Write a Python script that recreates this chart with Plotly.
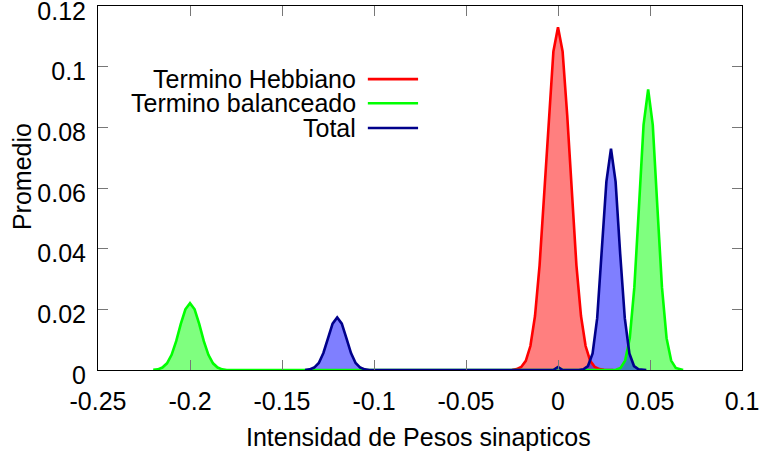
import plotly.graph_objects as go

# ---- data ----
red_x = [-0.025, -0.0225, -0.02, -0.0175, -0.015, -0.0125, -0.01, -0.0075, -0.005, -0.0025, 0,
         0.0025, 0.005, 0.0075, 0.01, 0.0125, 0.015, 0.0175, 0.02, 0.0225, 0.025, 0.03]
red_y = [0, 0.0003, 0.0010, 0.0030, 0.0079, 0.0178, 0.0346, 0.0580, 0.0840, 0.1050, 0.1130,
         0.1050, 0.0840, 0.0580, 0.0346, 0.0178, 0.0079, 0.0030, 0.0010, 0.0003, 0.0001, 0]

green_x = [-0.22, -0.2175, -0.215, -0.2125, -0.21, -0.2075, -0.205, -0.2025, -0.2, -0.1975,
           -0.195, -0.1925, -0.19, -0.1875, -0.185, -0.1825, -0.18,
           -0.15, -0.1, -0.05, -0.0025, 0, 0.0025, 0.02,
           0.0315, 0.034, 0.0365, 0.039, 0.0415, 0.044, 0.0465, 0.049, 0.0515, 0.054,
           0.0565, 0.059, 0.0615, 0.064, 0.0665, 0.068]
green_y = [0.0001, 0.0002, 0.0008, 0.0022, 0.0050, 0.0095, 0.0152, 0.0200, 0.0220, 0.0200,
           0.0152, 0.0095, 0.0050, 0.0022, 0.0008, 0.0002, 0.0,
           0, 0, 0, 0, 0.0008, 0, 0,
           0.0001, 0.0007, 0.0031, 0.0105, 0.0273, 0.0538, 0.0808, 0.0925, 0.0808, 0.0538,
           0.0273, 0.0105, 0.0031, 0.0007, 0.0001, 0]

blue_x = [-0.1375, -0.135, -0.1325, -0.13, -0.1275, -0.125, -0.1225, -0.12, -0.1175, -0.115,
          -0.1125, -0.11, -0.1075, -0.105, -0.1025,
          -0.05, -0.0025, 0, 0.0025,
          0.0113, 0.0138, 0.0163, 0.0188, 0.0213, 0.0238, 0.0263, 0.0288, 0.0313, 0.0338,
          0.0363, 0.0388, 0.0413, 0.0438, 0.0463, 0.048]
blue_y = [0, 0.0002, 0.0008, 0.0023, 0.0056, 0.0105, 0.0153, 0.0173, 0.0153, 0.0105,
          0.0056, 0.0023, 0.0008, 0.0002, 0,
          0, 0, 0.0010, 0,
          0, 0.0002, 0.0013, 0.0055, 0.0171, 0.0383, 0.0621, 0.0730, 0.0621, 0.0383,
          0.0171, 0.0055, 0.0013, 0.0002, 0, 0]

series_names = ["Termino Hebbiano", "Termino balanceado", "Total"]

x_tickvals = [-0.25, -0.2, -0.15, -0.1, -0.05, 0, 0.05, 0.1]
x_ticktext = ["-0.25", "-0.2", "-0.15", "-0.1", "-0.05", "0", "0.05", "0.1"]
y_tickvals = [0, 0.02, 0.04, 0.06, 0.08, 0.1, 0.12]
y_ticktext = ["0", "0.02", "0.04", "0.06", "0.08", "0.1", "0.12"]

x_title = "Intensidad de Pesos sinapticos"
y_title = "Promedio"

# ---- styling ----
line_colors = ["#ff0000", "#00ff00", "#00008b"]
fill_colors = ["rgba(255,0,0,0.5)", "rgba(0,255,0,0.5)", "rgba(0,0,255,0.5)"]
FONT = "Liberation Sans, Arial, sans-serif"
FS = 25

fig = go.Figure()
data = [(red_x, red_y), (green_x, green_y), (blue_x, blue_y)]

for i, (xs, ys) in enumerate(data):
    fig.add_trace(go.Scatter(x=xs, y=ys, mode="lines", fill="tozeroy",
                             fillcolor=fill_colors[i], line=dict(width=0, color=fill_colors[i]),
                             showlegend=False, hoverinfo="skip"))
for i, (xs, ys) in enumerate(data):
    fig.add_trace(go.Scatter(x=xs, y=ys, mode="lines", name=series_names[i],
                             line=dict(width=2.6, color=line_colors[i]), showlegend=False))

# manual gnuplot-style legend (text then line sample)
leg_y = [0.799, 0.733, 0.665]
for i, name in enumerate(series_names):
    fig.add_annotation(x=0.403, y=leg_y[i], xref="paper", yref="paper", text=name,
                       showarrow=False, xanchor="right", yanchor="middle",
                       font=dict(family=FONT, size=FS, color="black"))
    fig.add_shape(type="line", xref="paper", yref="paper", x0=0.419, x1=0.497,
                  y0=leg_y[i], y1=leg_y[i], line=dict(color=line_colors[i], width=2.6))

# axis titles
fig.add_annotation(x=0.497, y=-0.184, xref="paper", yref="paper", text=x_title,
                   showarrow=False, xanchor="center", yanchor="middle",
                   font=dict(family=FONT, size=FS, color="black"))
fig.add_annotation(x=-0.118, y=0.53, xref="paper", yref="paper", text=y_title,
                   showarrow=False, xanchor="center", yanchor="middle", textangle=-90,
                   font=dict(family=FONT, size=FS, color="black"))

fig.update_layout(
    width=759, height=456,
    margin=dict(l=98, r=17, t=6, b=86),
    paper_bgcolor="white", plot_bgcolor="white",
    font=dict(family=FONT, size=FS, color="black"),
    showlegend=False,
)
fig.update_xaxes(range=[-0.25, 0.1000001], tickvals=x_tickvals, ticktext=x_ticktext,
                 ticks="inside", ticklen=10, tickcolor="#777", tickwidth=1,
                 showline=True, linecolor="black", linewidth=1, mirror="ticks",
                 showgrid=False, zeroline=False, ticklabelstandoff=9, automargin=False,
                 ticklabeloverflow="allow")
fig.update_yaxes(range=[0, 0.1200001], tickvals=y_tickvals, ticktext=y_ticktext,
                 ticks="inside", ticklen=10, tickcolor="#777", tickwidth=1,
                 showline=True, linecolor="black", linewidth=1, mirror="ticks",
                 showgrid=False, zeroline=False, ticklabelstandoff=6, automargin=False,
                 ticklabeloverflow="allow", ticklabelshift=5)

fig.write_html("out.html", config={"displayModeBar": False},
               post_script="document.body.style.margin='0px';document.body.style.overflow='hidden';")
